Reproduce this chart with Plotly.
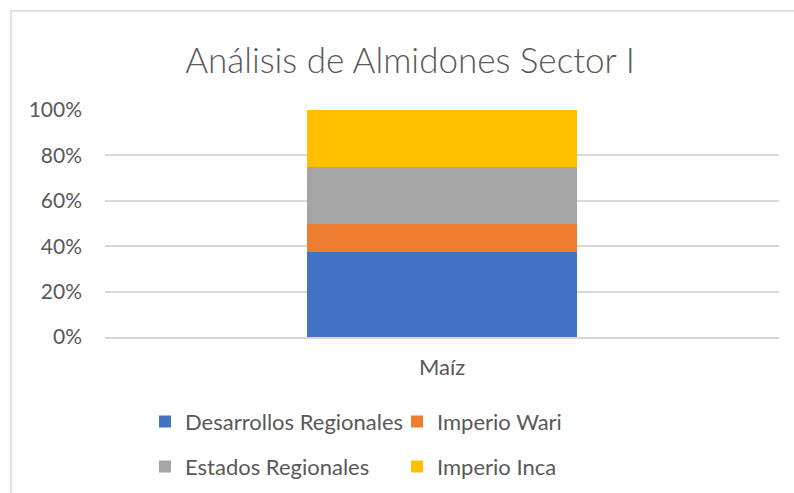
import plotly.graph_objects as go

categories = ["Maíz"]
series_names = ["Desarrollos Regionales", "Imperio Wari", "Estados Regionales", "Imperio Inca"]
series_values = [[37.5], [12.5], [25.0], [25.0]]
colors = ["#4472C4", "#ED7D31", "#A5A5A5", "#FFC000"]
legend_ids = ["legend", "legend", "legend2", "legend2"]
y_tick_vals = [0, 20, 40, 60, 80, 100]
y_tick_text = ["0%", "20%", "40%", "60%", "80%", "100%"]
title_text = "Análisis de Almidones Sector I"

W, H = 794, 493
FONT = "Lato"
TXT = "#595959"

fig = go.Figure()
for name, vals, col, lg in zip(series_names, series_values, colors, legend_ids):
    fig.add_trace(go.Bar(x=categories, y=vals, name=name, marker=dict(color=col, line=dict(width=0)),
                         legend=lg, width=0.4))

# plot area in px
L, R, T, B = 105, 779, 110, 336.7
pw, ph = R - L, B - T

def px2paper_x(px):
    return (px - L) / pw

def px2paper_y(py):
    return (B - py) / ph

leg_common = dict(orientation="h", xref="container", yref="container",
                  x=145 / W, xanchor="left", yanchor="middle",
                  traceorder="normal",
                  entrywidth=207, entrywidthmode="pixels",
                  font=dict(family=FONT, size=22, color=TXT), bgcolor="rgba(0,0,0,0)",
                  itemclick=False, itemdoubleclick=False)

fig.update_layout(
    width=W, height=H,
    barmode="stack", barnorm="percent",
    paper_bgcolor="white", plot_bgcolor="white",
    margin=dict(l=L, r=W - R, t=T, b=H - B, pad=0),
    font=dict(family=FONT, color=TXT, size=20),
    title=dict(text=title_text, x=410 / W, xanchor="center", xref="container",
               y=1 - 61 / H, yanchor="middle", yref="container",
               font=dict(family=FONT, size=35, color=TXT, weight=300)),
    showlegend=True,
    legend=dict(y=1 - 421.7 / H, **leg_common),
    legend2=dict(y=1 - 466.7 / H, **leg_common),
)
fig.update_yaxes(range=[0, 100], tickvals=y_tick_vals, ticktext=y_tick_text,
                 showgrid=True, gridcolor="#D9D9D9", gridwidth=1.5, zeroline=False,
                 showline=False, ticks="", ticklabelstandoff=22,
                 tickfont=dict(family=FONT, size=21, color=TXT), fixedrange=True)
fig.update_xaxes(showgrid=False, showline=True, linecolor="#D9D9D9", linewidth=1.5,
                 ticks="", ticklabelstandoff=10,
                 tickfont=dict(family=FONT, size=22, color=TXT), fixedrange=True)

# chart border (partially off-canvas like the reference)
fig.add_shape(type="rect", xref="paper", yref="paper",
              x0=px2paper_x(11), x1=px2paper_x(820), y0=px2paper_y(520), y1=px2paper_y(11),
              line=dict(color="#D9D9D9", width=1.5), fillcolor="rgba(0,0,0,0)", layer="below")

fig.write_html("out.html", config={"displayModeBar": False},
               post_script="document.body.style.margin='0';document.body.style.overflow='hidden';")
